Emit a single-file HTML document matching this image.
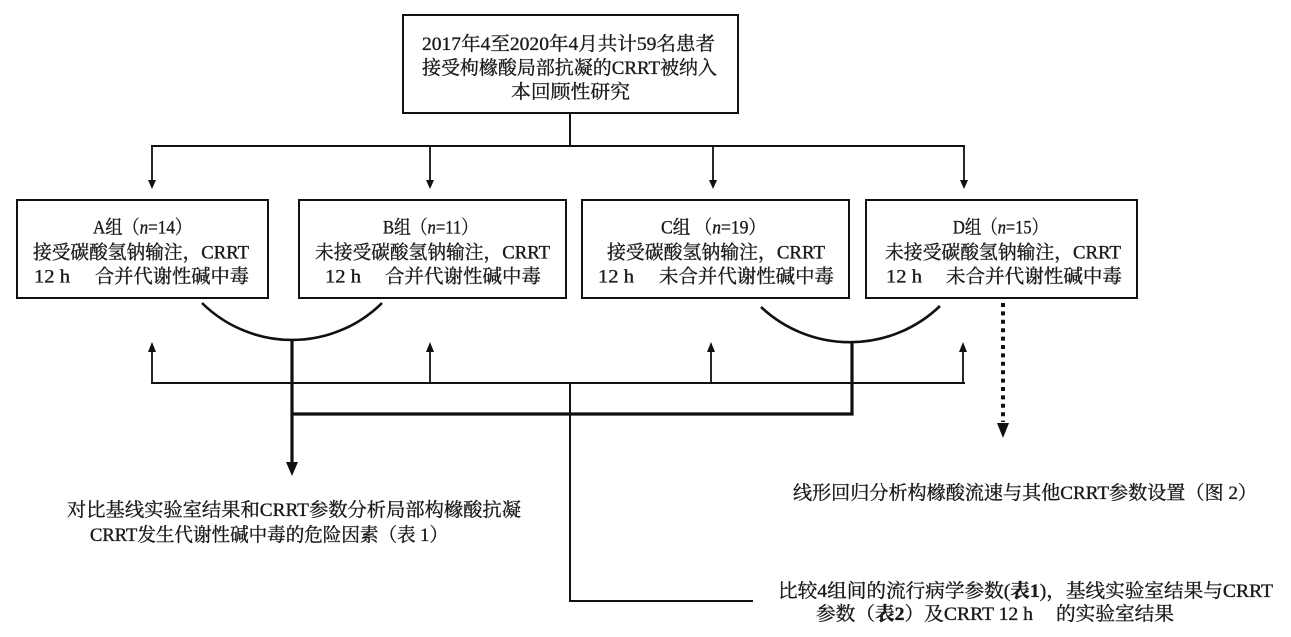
<!DOCTYPE html>
<html>
<head>
<meta charset="utf-8">
<style>
  html,body{margin:0;padding:0;background:#fff;}
  body{width:1291px;height:637px;overflow:hidden;}
  svg{display:block;}
  text{font-family:"Liberation Serif","Noto Serif CJK SC",serif;font-size:19px;fill:#1a1a1a;stroke:#1a1a1a;stroke-width:0.35px;}
  .b{font-weight:bold;}
</style>
</head>
<body>
<svg width="1291" height="637" viewBox="0 0 1291 637" xmlns="http://www.w3.org/2000/svg">
  <g fill="none" stroke="#111">
    <!-- top box -->
    <rect x="403" y="15" width="335" height="98" stroke-width="2"/>
    <line x1="570" y1="113" x2="570" y2="146" stroke-width="2"/>
    <line x1="151" y1="146" x2="965" y2="146" stroke-width="2"/>
    <line x1="152" y1="146" x2="152" y2="182" stroke-width="1.8"/>
    <line x1="430" y1="146" x2="430" y2="182" stroke-width="1.8"/>
    <line x1="713" y1="146" x2="713" y2="182" stroke-width="1.8"/>
    <line x1="964" y1="146" x2="964" y2="182" stroke-width="1.8"/>
    <!-- group boxes -->
    <rect x="17" y="200" width="251" height="98" stroke-width="2"/>
    <rect x="299" y="200" width="267" height="98" stroke-width="2"/>
    <rect x="582" y="200" width="267" height="98" stroke-width="2"/>
    <rect x="866" y="200" width="271" height="98" stroke-width="2"/>
    <!-- arcs -->
    <path d="M202,303 A128,128 0 0 0 382,303" stroke-width="2.6"/>
    <path d="M761,307 A130,130 0 0 0 940,306" stroke-width="2.6"/>
    <!-- thick connectors -->
    <line x1="292" y1="340" x2="292" y2="464" stroke-width="3.2"/>
    <line x1="852" y1="343" x2="852" y2="415.5" stroke-width="3.2"/>
    <line x1="292" y1="414" x2="853.5" y2="414" stroke-width="3.2"/>
    <!-- thin bottom bracket -->
    <line x1="151" y1="383" x2="965" y2="383" stroke-width="2"/>
    <line x1="152" y1="383" x2="152" y2="350" stroke-width="1.8"/>
    <line x1="430" y1="383" x2="430" y2="350" stroke-width="1.8"/>
    <line x1="711" y1="383" x2="711" y2="350" stroke-width="1.8"/>
    <line x1="963" y1="383" x2="963" y2="350" stroke-width="1.8"/>
    <line x1="570" y1="383" x2="570" y2="602" stroke-width="2"/>
    <line x1="569" y1="601" x2="753" y2="601" stroke-width="2"/>
    <!-- dotted -->
    <line x1="1003" y1="303" x2="1003" y2="422" stroke-width="4" stroke-dasharray="4 4.4"/>
  </g>
  <g fill="#111">
    <!-- down arrowheads -->
    <polygon points="148,180 156,180 152,189"/>
    <polygon points="426,180 434,180 430,189"/>
    <polygon points="709,180 717,180 713,189"/>
    <polygon points="960,180 968,180 964,189"/>
    <!-- up arrowheads -->
    <polygon points="148,352 156,352 152,342"/>
    <polygon points="426,352 434,352 430,342"/>
    <polygon points="707,352 715,352 711,342"/>
    <polygon points="959,352 967,352 963,342"/>
    <!-- thick arrowhead -->
    <polygon points="286,462 298,462 292,476"/>
    <!-- dotted arrowhead -->
    <polygon points="997,423 1009,423 1003,438"/>
  </g>

  <!-- top box text -->
  <text x="422" y="50" textLength="293" lengthAdjust="spacingAndGlyphs">2017年4至2020年4月共计59名患者</text>
  <text x="422" y="74" textLength="295" lengthAdjust="spacingAndGlyphs">接受枸橼酸局部抗凝的CRRT被纳入</text>
  <text x="511" y="98" textLength="119" lengthAdjust="spacingAndGlyphs">本回顾性研究</text>

  <!-- Box A -->
  <text x="93" y="233.5" textLength="99" lengthAdjust="spacingAndGlyphs">A组（<tspan font-style="italic">n</tspan>=14）</text>
  <text x="33" y="258.5" textLength="216" lengthAdjust="spacingAndGlyphs">接受碳酸氢钠输注，CRRT</text>
  <text x="34" y="282.5" textLength="36" lengthAdjust="spacingAndGlyphs">12 h</text>
  <text x="95" y="282.5" textLength="154" lengthAdjust="spacingAndGlyphs">合并代谢性碱中毒</text>

  <!-- Box B -->
  <text x="383" y="233.5" textLength="95" lengthAdjust="spacingAndGlyphs">B组（<tspan font-style="italic">n</tspan>=11）</text>
  <text x="315" y="258.5" textLength="235" lengthAdjust="spacingAndGlyphs">未接受碳酸氢钠输注，CRRT</text>
  <text x="325" y="282.5" textLength="36" lengthAdjust="spacingAndGlyphs">12 h</text>
  <text x="385" y="282.5" textLength="156" lengthAdjust="spacingAndGlyphs">合并代谢性碱中毒</text>

  <!-- Box C -->
  <text x="661" y="233.5" textLength="105" lengthAdjust="spacingAndGlyphs">C组 （<tspan font-style="italic">n</tspan>=19）</text>
  <text x="607" y="258.5" textLength="218" lengthAdjust="spacingAndGlyphs">接受碳酸氢钠输注，CRRT</text>
  <text x="598" y="282.5" textLength="36" lengthAdjust="spacingAndGlyphs">12 h</text>
  <text x="659" y="282.5" textLength="175" lengthAdjust="spacingAndGlyphs">未合并代谢性碱中毒</text>

  <!-- Box D -->
  <text x="953" y="233.5" textLength="95" lengthAdjust="spacingAndGlyphs">D组（<tspan font-style="italic">n</tspan>=15）</text>
  <text x="885" y="258.5" textLength="236" lengthAdjust="spacingAndGlyphs">未接受碳酸氢钠输注，CRRT</text>
  <text x="886" y="282.5" textLength="36" lengthAdjust="spacingAndGlyphs">12 h</text>
  <text x="946" y="282.5" textLength="176" lengthAdjust="spacingAndGlyphs">未合并代谢性碱中毒</text>

  <!-- bottom left -->
  <text x="67" y="516" textLength="454" lengthAdjust="spacingAndGlyphs">对比基线实验室结果和CRRT参数分析局部构橼酸抗凝</text>
  <text x="90" y="541" textLength="358" lengthAdjust="spacingAndGlyphs">CRRT发生代谢性碱中毒的危险因素（表 1）</text>

  <!-- right -->
  <text x="793" y="499" textLength="464" lengthAdjust="spacingAndGlyphs">线形回归分析构橼酸流速与其他CRRT参数设置（图 2）</text>

  <!-- bottom right -->
  <text x="778" y="597" textLength="495" lengthAdjust="spacingAndGlyphs">比较4组间的流行病学参数(<tspan class="b">表1</tspan>)，基线实验室结果与CRRT</text>
  <text x="816" y="620" textLength="217" lengthAdjust="spacingAndGlyphs">参数（<tspan class="b">表2</tspan>）及CRRT 12 h</text>
  <text x="1056" y="620" textLength="118" lengthAdjust="spacingAndGlyphs">的实验室结果</text>
</svg>
</body>
</html>
